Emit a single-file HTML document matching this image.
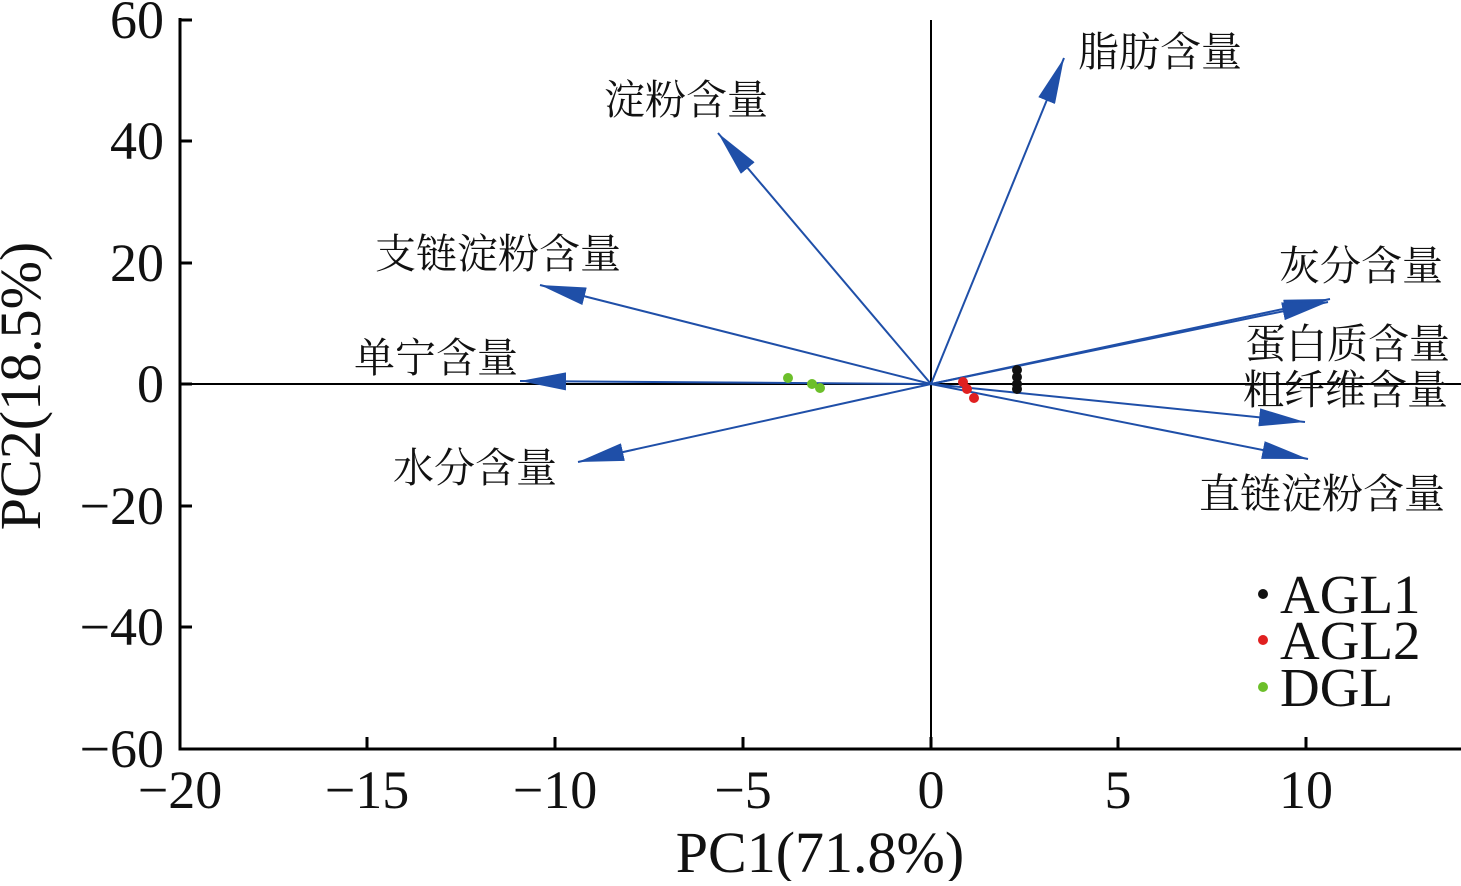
<!DOCTYPE html>
<html><head><meta charset="utf-8"><style>
body{margin:0;background:#fff}
svg text{font-family:"Liberation Serif","Noto Serif CJK SC",serif;fill:#111}
.t{font-size:54px}
.c{font-size:41px}
.l{font-size:55px}
</style></head><body>
<svg width="1461" height="881" viewBox="0 0 1461 881" xmlns="http://www.w3.org/2000/svg">
<defs>
<marker id="b" viewBox="0 0 10 10" refX="10" refY="5" markerWidth="46" markerHeight="18" markerUnits="userSpaceOnUse" orient="auto" preserveAspectRatio="none"><path d="M0,0L10,5L0,10z" fill="#1f4fa8"/></marker></defs>
<g stroke="#000" stroke-width="3" fill="none">
<path d="M180,18V749H1461"/>
<path d="M367,749v-12M555,749v-12M743,749v-12M931,749v-12M1118,749v-12M1306,749v-12"/>
<path d="M180,20h12M180,141h12M180,263h12M180,384h12M180,506h12M180,627h12"/>
</g>
<g stroke="#000" stroke-width="2"><line x1="931" y1="20" x2="931" y2="749"/><line x1="180" y1="384" x2="1461" y2="384"/></g>
<g stroke="#1f4fa8" stroke-width="2" fill="none">
<line x1="931" y1="384" x2="1064" y2="58" marker-end="url(#b)"/>
<line x1="931" y1="384" x2="718" y2="133" marker-end="url(#b)"/>
<line x1="931" y1="384" x2="540" y2="285" marker-end="url(#b)"/>
<line x1="931" y1="384" x2="520" y2="381" marker-end="url(#b)"/>
<line x1="931" y1="384" x2="578" y2="462" marker-end="url(#b)"/>
<line x1="931" y1="384" x2="1330" y2="299" marker-end="url(#b)"/>
<line x1="931" y1="384" x2="1328" y2="302" marker-end="url(#b)"/>
<line x1="931" y1="384" x2="1305" y2="422" marker-end="url(#b)"/>
<line x1="931" y1="384" x2="1308" y2="459" marker-end="url(#b)"/>
</g>
<g fill="#111"><circle cx="1017" cy="370" r="5"/><circle cx="1017" cy="377" r="5"/><circle cx="1017" cy="384" r="5"/><circle cx="1017" cy="389" r="5"/></g>
<g fill="#e02020"><circle cx="963" cy="382" r="5"/><circle cx="967" cy="389" r="5"/><circle cx="974" cy="398" r="5"/></g>
<g fill="#6cbf2a"><circle cx="788" cy="378" r="5"/><circle cx="812" cy="384" r="5"/><circle cx="820" cy="388" r="5"/></g>
<g class="t" text-anchor="middle">
<text x="180" y="808">−20</text><text x="367" y="808">−15</text><text x="555" y="808">−10</text><text x="743" y="808">−5</text><text x="931" y="808">0</text><text x="1118" y="808">5</text><text x="1306" y="808">10</text>
</g>
<g class="t" text-anchor="end">
<text x="164" y="38">60</text><text x="164" y="159">40</text><text x="164" y="281">20</text><text x="164" y="402">0</text><text x="164" y="524">−20</text><text x="164" y="645">−40</text><text x="164" y="767">−60</text>
</g>
<text class="l" x="820" y="872" text-anchor="middle" style="font-size:58px">PC1(71.8%)</text>
<text class="l" transform="translate(40,386) rotate(-90)" text-anchor="middle" style="font-size:58px">PC2(18.5%)</text>
<g class="c">
<text x="1078" y="66">脂肪含量</text>
<text x="604" y="114">淀粉含量</text>
<text x="375" y="268">支链淀粉含量</text>
<text x="1279" y="280">灰分含量</text>
<text x="354" y="372">单宁含量</text>
<text x="1245" y="358">蛋白质含量</text>
<text x="1243" y="404">粗纤维含量</text>
<text x="393" y="482">水分含量</text>
<text x="1199" y="508">直链淀粉含量</text>
</g>
<circle cx="1263" cy="594" r="5" fill="#111"/><circle cx="1263" cy="640" r="5" fill="#e02020"/><circle cx="1263" cy="687" r="5" fill="#6cbf2a"/>
<g class="l"><text x="1280" y="613">AGL1</text><text x="1280" y="659">AGL2</text><text x="1280" y="706">DGL</text></g>
</svg>
</body></html>
